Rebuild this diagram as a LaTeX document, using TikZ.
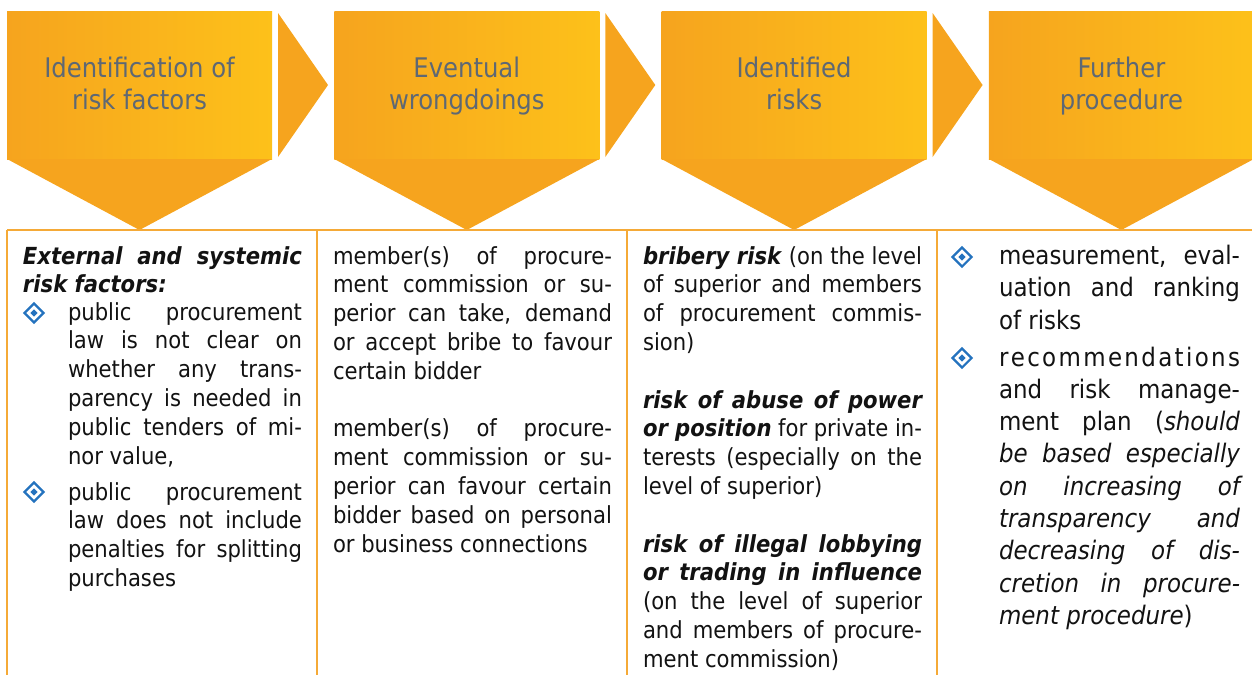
\documentclass[tikz,border=0pt]{standalone}
\usepackage{fontspec}
\usetikzlibrary{shapes.geometric}
\setmainfont{DejaVu Sans Condensed}
\definecolor{chevorange}{RGB}{246,164,30}
\definecolor{chevyellow}{RGB}{253,193,26}
\definecolor{rulecol}{RGB}{245,170,55}
\definecolor{headgray}{RGB}{94,104,116}
\definecolor{bulletblue}{RGB}{36,114,190}
\newcommand{\gap}{\par\vspace{28.8pt}}
\newcommand{\bi}[1]{\textbf{\textit{#1}}}

\begin{document}
\begin{tikzpicture}[x=1pt,y=-1pt,
    head/.style={text=headgray,align=center,inner sep=0pt,font=\fontsize{27}{32}\selectfont},
    cell/.style={anchor=base west,inner sep=0pt,outer sep=0pt,align=justify,text=black!93,font=\fontsize{23.5}{28.8}\selectfont},
    bigcell/.style={cell,font=\fontsize{25.5}{32.3}\selectfont},
    dia/.style={diamond,draw=bulletblue,line width=2.2pt,minimum size=20pt,inner sep=0pt,
      path picture={\fill[bulletblue,shift={(path picture bounding box.center)}] (0,3.6) -- (3.6,0) -- (0,-3.6) -- (-3.6,0) -- cycle;}}]
      \useasboundingbox (0,0) rectangle (1252,675);
      % chevrons and arrows
      \foreach \i in {0,...,3}{
        \shade[left color=chevorange,right color=chevyellow] ({7+327.3*\i},11) rectangle ({272+327.3*\i},159);
        \fill[chevorange] ({7+327.3*\i},159) -- ({272+327.3*\i},159) -- ({139.5+327.3*\i},230) -- cycle;
      }
      \foreach \i in {0,1,2}
        \fill[chevorange] ({278+327.3*\i},13) -- ({328+327.3*\i},85) -- ({278+327.3*\i},157) -- cycle;
      \node[head] (ident) at (139.5,87) {Identification of\strut\\risk factors\strut};
      \node[head] (wrong) at (466.8,87) {Eventual\strut\\wrongdoings\strut};
      \node[head] (risks) at (794.1,87) {Identified\strut\\risks\strut};
      \node[head] (proc) at (1121.4,87) {Further\strut\\procedure\strut};
      % table
      \draw[rulecol,line width=1.3pt] (7,230) -- (1252,230);
      \draw[rulecol,line width=1.3pt] (7,230) -- (7,675);
      \draw[rulecol,line width=1.3pt] (317,230) -- (317,675);
      \draw[rulecol,line width=1.3pt] (627,230) -- (627,675);
      \draw[rulecol,line width=1.3pt] (937,230) -- (937,675);
      % column 1
      \node[cell,text width=279pt] (facthead) at (23,264) {\bi{External and systemic\linebreak risk factors:}};
      \node[dia] (d1) at (34,313) {};
      \node[cell,text width=234pt] (fact1) at (68,320) {public procurement\linebreak law is not clear on\linebreak whether any trans-\linebreak parency is needed in\linebreak public tenders of mi-\linebreak nor value,};
      \node[dia] (d2) at (34,492) {};
      \node[cell,text width=234pt] (fact2) at (68,500) {public procurement\linebreak law does not include\linebreak penalties for splitting\linebreak purchases};
      % column 2
      \node[cell,text width=279pt] (wrongtxt) at (333,264) {member(s) of procure-\linebreak ment commission or su-\linebreak perior can take, demand\linebreak or accept bribe to favour\linebreak certain bidder\gap
        member(s) of procure-\linebreak ment commission or su-\linebreak perior can favour certain\linebreak bidder based on personal\linebreak or business connections};
      % column 3
      \node[cell,text width=279pt] (riskstxt) at (643,264) {\bi{bribery risk} (on the level\linebreak of superior and members\linebreak of procurement commis-\linebreak sion)\gap
        \bi{risk of abuse of power\linebreak or position} for private in-\linebreak terests (especially on the\linebreak level of superior)\gap
        \bi{risk of illegal lobbying\linebreak or trading in influence}\linebreak (on the level of superior\linebreak and members of procure-\linebreak ment commission)};
      % column 4
      \node[dia] (d3) at (962,257) {};
      \node[bigcell,text width=241pt] (proc1) at (999,264.5) {measurement, eval-\linebreak uation and ranking\linebreak of risks};
      \node[dia] (d4) at (962,358) {};
      \node[bigcell,text width=241pt] (proc2) at (999,366) {\hbox to 241pt{r\hfil e\hfil c\hfil o\hfil m\hfil m\hfil e\hfil n\hfil d\hfil a\hfil t\hfil i\hfil o\hfil n\hfil s}\linebreak and risk manage-\linebreak ment plan (\textit{should\linebreak be based especially\linebreak on increasing of\linebreak transparency and\linebreak decreasing of dis-\linebreak cretion in procure-\linebreak ment procedure})};
    \end{tikzpicture}
\end{document}
